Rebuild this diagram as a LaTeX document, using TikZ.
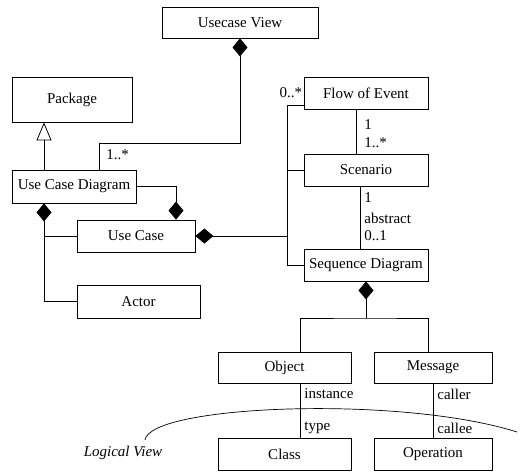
\documentclass[tikz,border=0pt]{standalone}
\usepackage{fontspec}
\setmainfont{Liberation Serif}
\usetikzlibrary{arrows.meta,calc}

\begin{document}
\begin{tikzpicture}[x=1pt, y=-1pt, line width=0.8pt,
        box/.style={draw, inner sep=0pt, minimum height=32pt, font=\fontsize{15}{17}\selectfont},
        lbl/.style={inner sep=1pt, font=\fontsize{15}{17}\selectfont},
        comp/.style={{Diamond[length=18pt,width=15pt]}-},
        compend/.style={-{Diamond[length=18pt,width=15pt]}}]
                \useasboundingbox (0, 0) rectangle (523, 472);

                % classes
                \node[box, minimum width=156pt, minimum height=31pt] (usecaseview) at (240, 22.5) {Usecase View};
                \node[box, minimum width=120pt, minimum height=45pt] (package) at (72, 99.5) {Package};
                \node[box, minimum width=124pt, minimum height=33pt] (ucd) at (74, 186.5) {Use Case Diagram};
                \node[box, minimum width=118pt] (usecase) at (136, 236) {Use Case};
                \node[box, minimum width=123pt, minimum height=33pt] (actor) at (138.5, 301.5) {Actor};
                \node[box, minimum width=124pt] (flow) at (366, 93) {Flow of Event};
                \node[box, minimum width=124pt] (scenario) at (366, 170) {Scenario};
                \node[box, minimum width=124pt] (seqd) at (366, 265) {Sequence Diagram};
                \node[box, minimum width=133pt, minimum height=31pt] (object) at (284.5, 367.5) {Object};
                \node[box, minimum width=118pt, minimum height=31pt] (message) at (433, 367.5) {Message};
                \node[box, minimum width=133pt] (class) at (284.5, 454) {Class};
                \node[box, minimum width=118pt] (operation) at (433, 454) {Operation};

                \coordinate (genx) at (44, 0);
                \coordinate (viewbend) at (99, 143);
                \coordinate (ucx) at (176, 0);
                \coordinate (busx) at (287, 0);
                \coordinate (hub) at (366, 318);
                \coordinate (objx) at (300, 0);
                \coordinate (msgx) at (428, 0);
                \coordinate (flowfoot) at ($(flow.south west)+(0, -4)$);

                % connectors
                \draw[{Triangle[open,length=18pt,width=15pt]}-] (genx |- package.south) -- (genx |- ucd.north);
                \draw[comp] (usecaseview.south) |- (viewbend) -- (viewbend |- ucd.north);
                \draw[compend] (ucd.east) -| (ucx |- usecase.north);
                \draw[comp] (genx |- ucd.south) |- (actor.west);
                \draw (genx |- usecase.west) -- (usecase.west);
                \draw[comp] (usecase.east) -- (busx |- usecase.east);
                \draw (flowfoot) -| (busx |- seqd.west) -- (seqd.west);
                \draw (scenario.west) -- (busx |- scenario.west);
                \draw ($(flow.south)+(-10, 0)$) -- ($(scenario.north)+(-10, 0)$);
                \draw ($(scenario.south)+(-6, 0)$) -- ($(seqd.north)+(-6, 0)$);
                \draw[comp] (seqd.south) -- (hub);
                \draw (objx |- object.north) |- (hub) -| (msgx |- message.north);
                \draw (objx |- object.south) -- (objx |- class.north);
                \draw (message.south) -- (operation.north);

                % logical view boundary
                \draw[line width=0.7pt] (145, 440) .. controls (150, 405) and (400, 395) .. (517, 432);

                % multiplicities and roles
                \node[lbl, anchor=west] (mview) at (105, 155) {1..*};
                \node[lbl, anchor=east] (mflow) at (flow.west) {0..*};
                \node[lbl, anchor=west] (mflowtop) at (363, 125) {1};
                \node[lbl, anchor=west] (mscentop) at (363, 143) {1..*};
                \node[lbl, anchor=west] (mscenbot) at (363, 198) {1};
                \node[lbl, anchor=west] (mabstract) at (363, 218) {abstract};
                \node[lbl, anchor=west] (mseqtop) at (363, 236) {0..1};
                \node[lbl, anchor=west] (minstance) at (303, 394) {instance};
                \node[lbl, anchor=west] (mtype) at (303, 428) {type};
                \node[lbl, anchor=west] (mcaller) at (436, 394) {caller};
                \node[lbl, anchor=west] (mcallee) at (436, 428) {callee};
                \node[lbl, font=\fontsize{15}{17}\selectfont\itshape] (logical) at (123, 453) {Logical View};
\end{tikzpicture}
\end{document}
